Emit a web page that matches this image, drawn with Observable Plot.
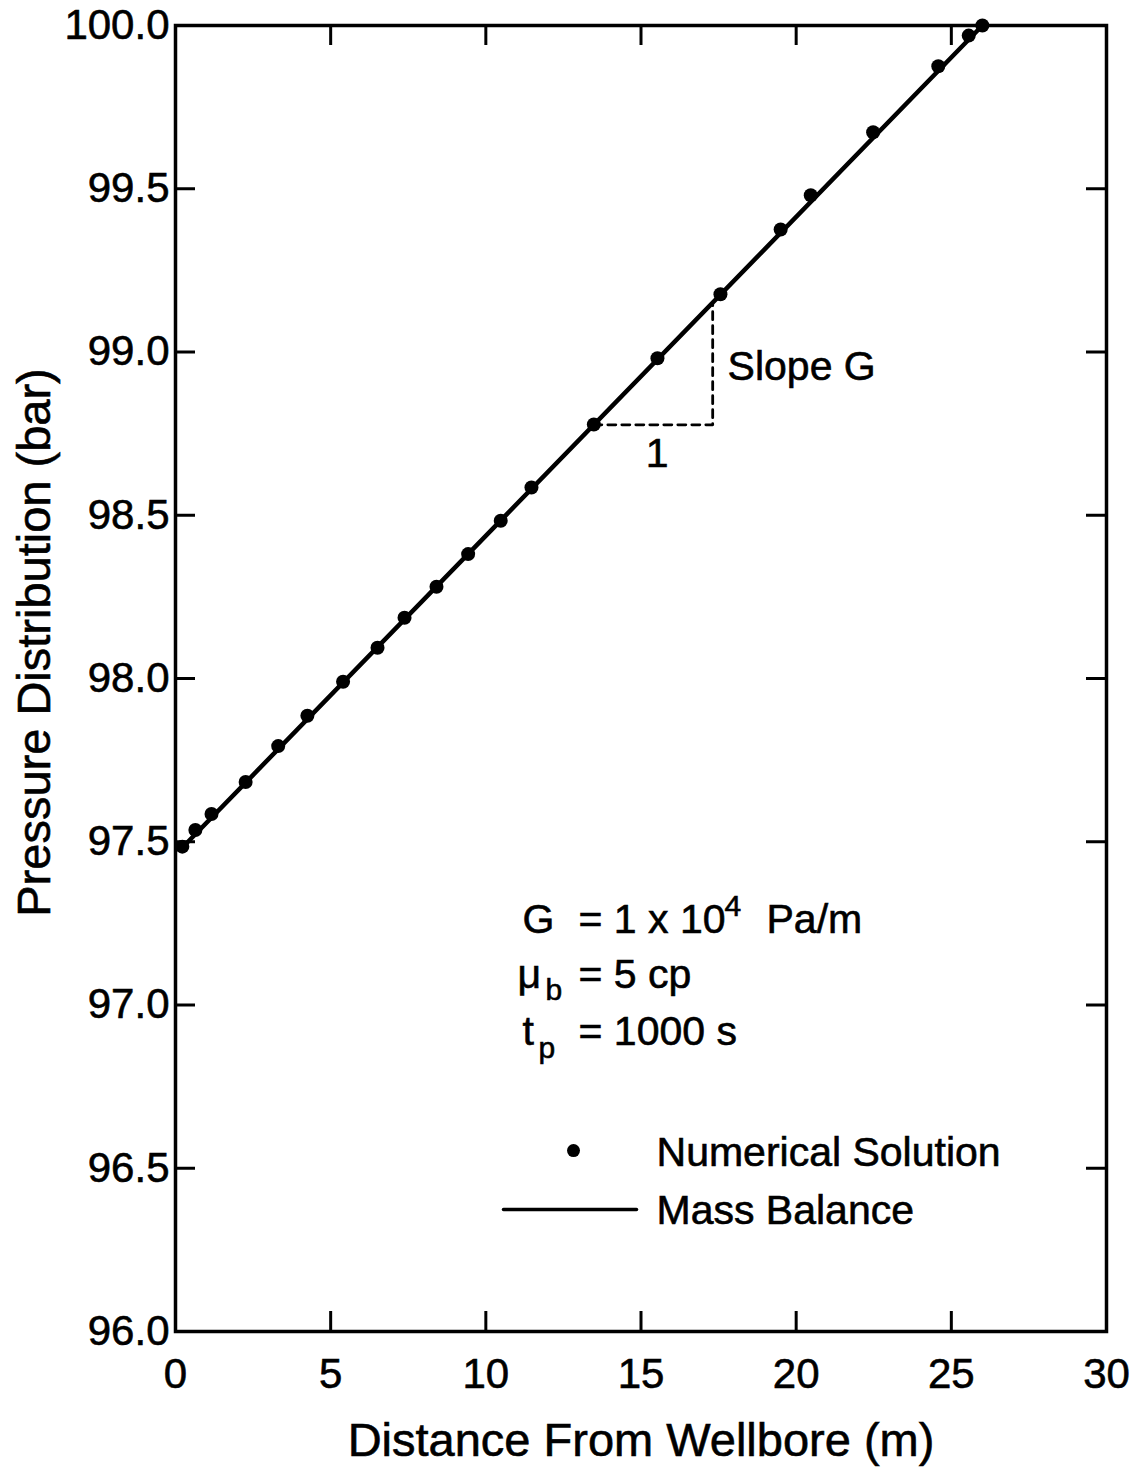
<!DOCTYPE html>
<html>
<head>
<meta charset="utf-8">
<script src="https://cdn.jsdelivr.net/npm/d3@7"></script>
<script src="https://cdn.jsdelivr.net/npm/@observablehq/plot@0.6"></script>
<style>
  html, body { margin: 0; padding: 0; background: #fff; }
  #chart svg { display: block; }
  #chart svg text { stroke: #000; stroke-width: 0.6px; }
</style>
</head>
<body>
<div id="chart"></div>
<script>
// ---- Data ----
const xTicks = [0, 5, 10, 15, 20, 25, 30];
const yTicks = [96.0, 96.5, 97.0, 97.5, 98.0, 98.5, 99.0, 99.5, 100.0];

// Numerical solution (distance in m, pressure in bar)
const distance = [0.22, 0.64, 1.16, 2.26, 3.31, 4.25, 5.40, 6.51, 7.38, 8.41, 9.43,
                  10.48, 11.47, 13.48, 15.53, 17.56, 19.50, 20.47, 22.48, 24.58, 25.56, 26.00];
const pressure = [97.485, 97.536, 97.585, 97.683, 97.793, 97.886, 97.990, 98.094, 98.186, 98.281, 98.381,
                  98.483, 98.585, 98.778, 98.981, 99.177, 99.375, 99.480, 99.673, 99.875, 99.969, 100.0];

// Mass balance (analytic straight line)
const massBalanceX = [0.2, 26.0];
const massBalanceY = [97.48, 100.0];

// Slope triangle (dashed)
const slopeX = [13.48, 17.31, 17.31];
const slopeY = [98.777, 98.777, 99.149];

// Legend samples
const legendDotX = [12.825];
const legendDotY = [96.554];
const legendLineX = [10.569, 14.855];
const legendLineY = [96.374, 96.374];

// Text annotations (placed in data coordinates)
const annotations = [
  {text: "Slope G", x: 17.79, y: 98.913, size: 41},
  {text: "1", x: 15.15, y: 98.649, size: 41},
  {text: "G", x: 11.182, y: 97.219, size: 41},
  {text: "= 1 x 10", x: 12.986, y: 97.219, size: 41},
  {text: "4", x: 17.69, y: 97.274, size: 30},
  {text: "Pa/m", x: 19.044, y: 97.219, size: 41},
  {text: "μ", x: 11.020, y: 97.051, size: 41},
  {text: "b", x: 11.923, y: 97.014, size: 30},
  {text: "= 5 cp", x: 12.986, y: 97.051, size: 41},
  {text: "t", x: 11.182, y: 96.876, size: 41},
  {text: "p", x: 11.697, y: 96.839, size: 30},
  {text: "= 1000 s", x: 12.986, y: 96.876, size: 41},
  {text: "Numerical Solution", x: 15.50, y: 96.508, size: 41},
  {text: "Mass Balance", x: 15.50, y: 96.328, size: 41}
];

// ---- Build tables ----
const points = distance.map((d, i) => ({x: d, y: pressure[i]}));
const mbLine = massBalanceX.map((d, i) => ({x: d, y: massBalanceY[i]}));
const slopeLine = slopeX.map((d, i) => ({x: d, y: slopeY[i]}));
const legDot = legendDotX.map((d, i) => ({x: d, y: legendDotY[i]}));
const legLine = legendLineX.map((d, i) => ({x: d, y: legendLineY[i]}));

const W = 1141, H = 1470;
const mL = 175, mR = 35, mT = 25, mB = 139;
const plotH = H - mT - mB;
const plotW = W - mL - mR;
const tickLen = 20;
const font = "'Liberation Sans', Arial, Helvetica, sans-serif";

const chart = Plot.plot({
  width: W,
  height: H,
  marginLeft: mL, marginRight: mR, marginTop: mT, marginBottom: mB,
  x: {domain: [0, 30]},
  y: {domain: [96, 100]},
  style: {fontFamily: font, background: "#fff", color: "#000"},
  marks: [
    // tick labels
    Plot.axisX(xTicks, {tickSize: 0, tickPadding: 27, fontSize: 42, label: null, tickFormat: d => String(d)}),
    Plot.axisY(yTicks, {tickSize: 0, tickPadding: 6, fontSize: 42, label: null, tickFormat: d3.format(".1f")}),
    // inward ticks on all four sides
    Plot.ruleX(xTicks.slice(1, -1), {x: d => d, insetTop: plotH - tickLen, stroke: "#000", strokeWidth: 3}),
    Plot.ruleX(xTicks.slice(1, -1), {x: d => d, insetBottom: plotH - tickLen, stroke: "#000", strokeWidth: 3}),
    Plot.ruleY(yTicks.slice(1, -1), {y: d => d, insetRight: plotW - tickLen, stroke: "#000", strokeWidth: 3}),
    Plot.ruleY(yTicks.slice(1, -1), {y: d => d, insetLeft: plotW - tickLen, stroke: "#000", strokeWidth: 3}),
    Plot.frame({stroke: "#000", strokeWidth: 3.5}),
    // axis titles
    Plot.text(["Distance From Wellbore (m)"], {frameAnchor: "bottom", textAnchor: "middle", dy: 124, fontSize: 47, lineAnchor: "bottom", fill: "#000"}),
    Plot.text(["Pressure Distribution (bar)"], {frameAnchor: "left", textAnchor: "middle", rotate: -90, dx: -126, dy: -36, fontSize: 47, lineAnchor: "bottom", fill: "#000"}),
    // slope triangle
    Plot.line(slopeLine, {x: "x", y: "y", stroke: "#000", strokeWidth: 2.8, strokeDasharray: "8,6"}),
    // mass balance line
    Plot.line(mbLine, {x: "x", y: "y", stroke: "#000", strokeWidth: 4.5}),
    // numerical solution
    Plot.dot(points, {x: "x", y: "y", r: 7, fill: "#000", stroke: null, clip: false}),
    // legend
    Plot.dot(legDot, {x: "x", y: "y", r: 6.5, fill: "#000"}),
    Plot.line(legLine, {x: "x", y: "y", stroke: "#000", strokeWidth: 3.5}),
    // annotations
    Plot.text(annotations, {
      x: "x", y: "y", text: "text",
      fontSize: d => d.size,
      textAnchor: "start",
      lineAnchor: "bottom",
      fill: "#000"
    })
  ]
});

document.getElementById("chart").appendChild(chart);
</script>
</body>
</html>
